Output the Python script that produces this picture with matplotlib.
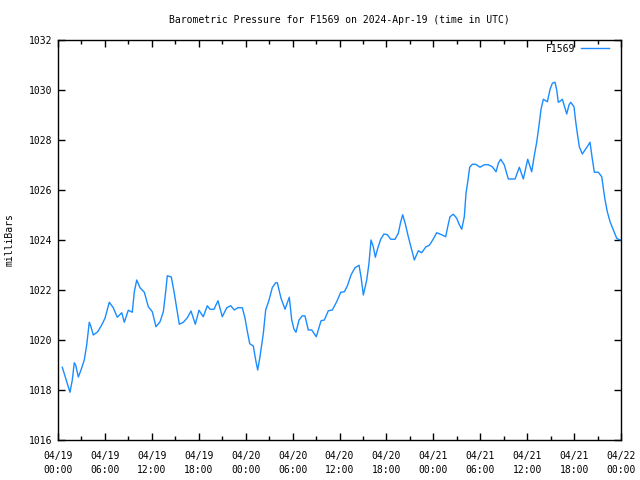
#!/usr/bin/env python3

import matplotlib
matplotlib.use("Agg")
import matplotlib.pyplot as plt

# hours since 2024-04-19 00:00 UTC, and pressure in mb
hours = [
    0.55, 1.53, 1.83, 2.08, 2.26, 2.60, 2.94, 3.36, 3.67, 4.00, 4.22, 4.51,
    5.08, 5.59, 6.01, 6.56, 7.07, 7.58, 8.15, 8.48, 8.99, 9.50, 9.76, 10.07,
    10.49, 11.04, 11.55, 12.06, 12.53, 13.05, 13.47, 13.77, 13.98, 14.49,
    14.84, 15.18, 15.51, 16.03, 16.54, 17.01, 17.56, 18.03, 18.58, 19.09,
    19.44, 19.95, 20.46, 21.01, 21.58, 22.09, 22.55, 22.98, 23.57, 23.92,
    24.21, 24.52, 24.98, 25.28, 25.54, 25.83, 26.26, 26.56, 26.99, 27.41,
    27.84, 28.05, 28.52, 29.03, 29.38, 29.58, 29.89, 30.18, 30.44, 30.82,
    31.24, 31.59, 32.01, 32.45, 33.03, 33.64, 34.06, 34.57, 35.08, 35.64,
    36.16, 36.62, 37.00, 37.47, 37.98, 38.50, 38.75, 39.05, 39.48, 39.77,
    40.03, 40.32, 40.58, 40.89, 41.27, 41.69, 42.12, 42.55, 43.10, 43.52,
    43.83, 44.08, 44.42, 44.80, 45.24, 45.57, 46.08, 46.51, 47.06, 47.49,
    47.92, 48.43, 48.60, 49.07, 49.58, 49.84, 50.13, 50.56, 50.99, 51.28,
    51.63, 51.96, 52.18, 52.40, 52.65, 52.99, 53.42, 53.97, 54.52, 55.03,
    55.54, 56.02, 56.31, 56.62, 57.08, 57.59, 58.45, 59.00, 59.51, 60.07,
    60.58, 60.90, 61.23, 61.52, 61.77, 62.07, 62.58, 62.93, 63.22, 63.56,
    63.78, 63.98, 64.29, 64.50, 64.75, 65.06, 65.35, 65.57, 65.99, 66.21,
    66.41, 66.67, 67.05, 67.40, 67.74, 68.04, 68.30, 68.59, 69.10, 69.54,
    69.74, 69.96, 70.25, 70.60, 71.02, 71.45, 71.66, 72.00,
]
pressure = [
    1018.91, 1017.91, 1018.40, 1019.09, 1019.00, 1018.52, 1018.80, 1019.20,
    1019.80, 1020.71, 1020.53, 1020.20, 1020.33, 1020.60, 1020.87, 1021.51,
    1021.29, 1020.91, 1021.09, 1020.71, 1021.19, 1021.11, 1021.93, 1022.40,
    1022.09, 1021.91, 1021.33, 1021.13, 1020.53, 1020.73, 1021.13, 1021.93,
    1022.57, 1022.52, 1021.93, 1021.27, 1020.63, 1020.71, 1020.89, 1021.16,
    1020.63, 1021.19, 1020.93, 1021.37, 1021.23, 1021.23, 1021.57, 1020.93,
    1021.29, 1021.37, 1021.20, 1021.29, 1021.29, 1020.87, 1020.35, 1019.85,
    1019.76, 1019.20, 1018.80, 1019.33, 1020.27, 1021.20, 1021.60, 1022.10,
    1022.29, 1022.29, 1021.67, 1021.23, 1021.53, 1021.71, 1020.80, 1020.43,
    1020.31, 1020.80, 1020.97, 1020.96, 1020.40, 1020.40, 1020.13, 1020.77,
    1020.80, 1021.17, 1021.20, 1021.53, 1021.91, 1021.93, 1022.16, 1022.60,
    1022.89, 1022.99, 1022.53, 1021.80, 1022.40, 1023.07, 1024.00, 1023.73,
    1023.31, 1023.67, 1024.03, 1024.24, 1024.21, 1024.03, 1024.03, 1024.27,
    1024.73, 1025.01, 1024.64, 1024.13, 1023.60, 1023.20, 1023.57, 1023.49,
    1023.73, 1023.79, 1024.00, 1024.29, 1024.27, 1024.21, 1024.13, 1024.53,
    1024.93, 1025.03, 1024.87, 1024.64, 1024.43, 1024.93, 1025.87, 1026.33,
    1026.91, 1027.03, 1027.03, 1026.91, 1027.01, 1027.01, 1026.93, 1026.73,
    1027.07, 1027.23, 1027.00, 1026.44, 1026.44, 1026.91, 1026.44, 1027.23,
    1026.73, 1027.36, 1027.93, 1028.60, 1029.23, 1029.63, 1029.53, 1030.03,
    1030.27, 1030.31, 1030.00, 1029.51, 1029.57, 1029.63, 1029.36, 1029.04,
    1029.40, 1029.51, 1029.33, 1028.73, 1028.27, 1027.73, 1027.44, 1027.60,
    1027.76, 1027.91, 1027.31, 1026.71, 1026.71, 1026.53, 1026.07, 1025.60,
    1025.13, 1024.73, 1024.40, 1024.07, 1024.03, 1024.00,
]

tick_hours = list(range(0, 73, 6))
tick_labels = [
    "04/19\n00:00", "04/19\n06:00", "04/19\n12:00", "04/19\n18:00",
    "04/20\n00:00", "04/20\n06:00", "04/20\n12:00", "04/20\n18:00",
    "04/21\n00:00", "04/21\n06:00", "04/21\n12:00", "04/21\n18:00",
    "04/22\n00:00",
]
y_ticks = list(range(1016, 1033, 2))

plt.rcParams["font.family"] = "DejaVu Sans Mono"
plt.rcParams["font.size"] = 7

fig = plt.figure(figsize=(6.4, 4.8), dpi=100)
ax = fig.add_axes([58 / 640, 40 / 480, 563 / 640, 400 / 480])

ax.plot(hours, pressure, color="#1a8cff", linewidth=1.0, label="F1569")

ax.set_xlim(0, 72)
ax.set_ylim(1016, 1032)
ax.set_xticks(tick_hours)
ax.set_xticklabels(tick_labels, linespacing=1.5)
ax.set_xticks(range(3, 72, 6), minor=True)
ax.set_yticks(y_ticks)

ax.tick_params(axis="both", which="both", direction="in", top=True,
               right=True, width=1, color="black")
ax.tick_params(axis="both", which="major", length=5)
ax.tick_params(axis="x", which="minor", length=3)
ax.tick_params(axis="x", which="major", pad=8)
ax.tick_params(axis="y", which="major", pad=4)
for s in ax.spines.values():
    s.set_linewidth(1)

fig.text(10 / 640, 240 / 480, "milliBars", rotation=90,
         ha="center", va="center")
ax.set_title("Barometric Pressure for F1569 on 2024-Apr-19 (time in UTC)",
             fontsize=7, pad=12)

ax.legend(loc="upper right", bbox_to_anchor=(0.986, 1.0), frameon=False,
          handlelength=2.9, markerfirst=False, borderaxespad=0,
          handletextpad=0.6)

fig.savefig("out.png", dpi=100)
